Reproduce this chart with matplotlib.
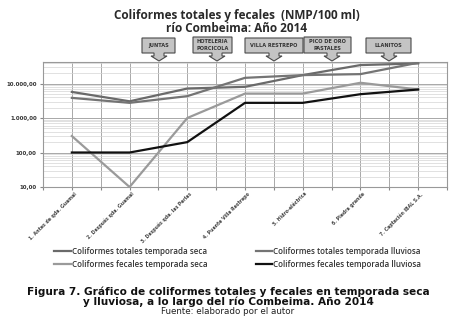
import numpy as np
import matplotlib.pyplot as plt
from matplotlib.patches import Polygon
from matplotlib.ticker import FixedLocator, LogLocator, NullFormatter

sites = ["1. Antes de qda. Guamal", "2. Después qda. Guamal",
         "3. Después qda. las Perlas", "4. Puente Villa Restrepo",
         "5. Hidro-eléctrica", "6. Piedra grande", "7. Captación IBAL S.A."]
totales_seca = [5700, 3050, 7150, 8000, 17500, 34200, 38200]
totales_lluviosa = [3830, 2750, 4300, 14600, 17500, 18700, 40000]
fecales_seca = [300, 10, 1000, 5100, 5100, 10500, 6700]
fecales_lluviosa = [100, 100, 200, 2750, 2750, 4900, 6700]

# order so that a 2-column legend reads row by row
series = [
    ("Coliformes totales temporada seca", totales_seca, "#6a6a6a"),
    ("Coliformes fecales temporada seca", fecales_seca, "#9a9a9a"),
    ("Coliformes totales temporada lluviosa", totales_lluviosa, "#747474"),
    ("Coliformes fecales temporada lluviosa", fecales_lluviosa, "#111111"),
]

# callouts: label, box left/right/top/bottom (px), arrow tip x (px)
callouts = [
    ("JUNTAS", 142, 175, 38, 53, 159),
    ("HOTELERIA\nPORCICOLA", 193, 232, 37, 53, 217),
    ("VILLA RESTREPO", 245, 303, 38, 53, 274),
    ("PICO DE ORO\nPASTALES", 304, 351, 37, 53, 332),
    ("LLANITOS", 366, 411, 38, 53, 389),
]
ytick_vals = [10, 100, 1000, 10000]
ytick_labels = ["10,00", "100,00", "1.000,00", "10.000,00"]

W, H = 456, 331
fig = plt.figure(figsize=(W / 100, H / 100), dpi=100)
ax = fig.add_axes((43 / W, 1 - 187 / H, 404 / W, 125 / H))

x = np.arange(1, len(sites) + 1)
for name, vals, col in series:
    ax.plot(x, vals, color=col, linewidth=1.6, label=name, zorder=3)

ax.set_yscale("log")
ax.set_ylim(10, 42000)
ax.set_xlim(0.5, len(sites) + 0.5)
ax.yaxis.set_major_locator(FixedLocator(ytick_vals))
ax.set_yticklabels(ytick_labels, fontsize=4.0, fontweight="bold", color="#333333",
                   family="DejaVu Sans")
ax.yaxis.set_minor_locator(LogLocator(base=10, subs=np.arange(2, 10)))
ax.yaxis.set_minor_formatter(NullFormatter())
ax.xaxis.set_major_locator(FixedLocator(np.arange(0.5, len(sites) + 1, 0.5)))
ax.set_xticklabels([""] * (2 * len(sites) + 1))
ax.tick_params(axis="both", which="both", length=2.5, color="#888888", pad=2)
ax.tick_params(axis="y", which="minor", length=0)
ax.grid(True, which="major", axis="both", color="#a8a8a8", linewidth=0.7)
ax.grid(True, which="minor", axis="y", color="#d4d4d4", linewidth=0.5)
for sp in ax.spines.values():
    sp.set_color("#999999")
    sp.set_linewidth(0.8)

for xi, lab in zip(x, sites):
    ax.annotate(lab, (xi, 10), xytext=(1.5, -3), textcoords="offset points",
                rotation=45, ha="right", va="top", fontsize=3.3,
                color="#444444", fontweight="bold", rotation_mode="anchor")

# legend
ax.legend(loc="upper left", bbox_to_anchor=(0.02, -0.456), ncol=2,
          frameon=False, handlelength=2.1, handletextpad=0.05,
          columnspacing=6.0, labelspacing=0.45, borderaxespad=0,
          prop={"family": "Open Sans", "size": 5.8, "weight": "semibold"},
          labelcolor="#333333")

# title
fig.text(237 / W, 1 - 15 / H, "Coliformes totales y fecales  (NMP/100 ml)",
         ha="center", va="center", fontsize=8.5, fontweight="bold",
         family="Open Sans", color="#2a2a2a")
fig.text(237 / W, 1 - 29 / H, "río Combeima: Año 2014",
         ha="center", va="center", fontsize=8.5, fontweight="bold",
         family="Open Sans", color="#2a2a2a")


def px(xp, yp):
    return (xp / W, 1 - yp / H)


for lab, l, r, t, b, tip in callouts:
    pts = [(l, t), (r, t), (r, b), (tip + 5, b), (tip + 5, 56), (tip + 8, 56),
           (tip, 61), (tip - 8, 56), (tip - 5, 56), (tip - 5, b), (l, b)]
    poly = Polygon([px(*p) for p in pts], closed=True, transform=fig.transFigure,
                   facecolor="#c4c4c4", edgecolor="#4a4a4a", linewidth=0.8,
                   zorder=5)
    fig.patches.append(poly)
    fig.text((l + r) / 2 / W, 1 - (t + b) / 2 / H, lab, ha="center", va="center",
             fontsize=3.6, fontweight="bold", color="#333333", linespacing=1.3,
             family="DejaVu Sans", zorder=6)

# caption
fig.text(0.5, 1 - 292 / H,
         "Figura 7. Gráfico de coliformes totales y fecales en temporada seca",
         ha="center", va="center", fontsize=7.6, fontweight="bold",
         family="DejaVu Sans", color="#111111")
fig.text(0.5, 1 - 302 / H,
         "y lluviosa, a lo largo del río Combeima. Año 2014",
         ha="center", va="center", fontsize=7.6, fontweight="bold",
         family="DejaVu Sans", color="#111111")
fig.text(0.5, 1 - 311 / H, "Fuente: elaborado por el autor",
         ha="center", va="center", fontsize=6.3, family="DejaVu Sans",
         color="#222222")

fig.savefig("out.png", dpi=100)
